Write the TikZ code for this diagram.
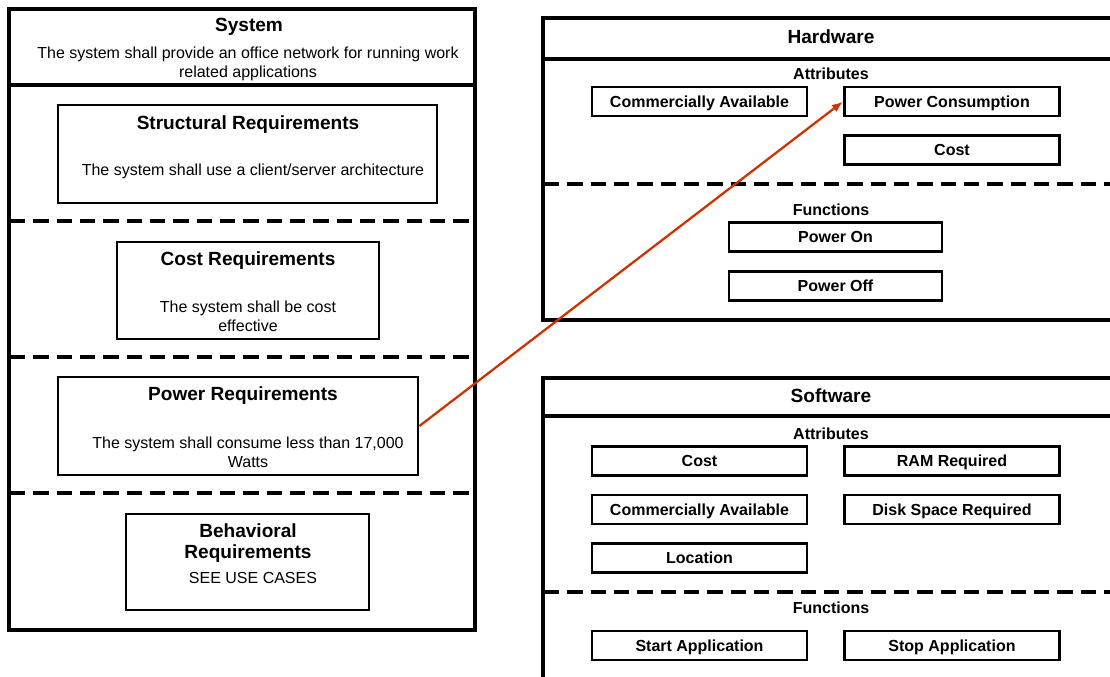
\documentclass[tikz,border=0pt]{standalone}
\usepackage{fontspec}
\setmainfont{Liberation Sans}
\usetikzlibrary{arrows.meta}
\definecolor{linkred}{RGB}{204,51,0}
\begin{document}
\begin{tikzpicture}[x=0.75pt,y=-0.75pt,
  frame/.style={draw=black,line width=2.3pt},
  dashsep/.style={draw=black,line width=2.3pt,dash pattern=on 11.5pt off 6pt},
  reqbox/.style={draw=black,line width=2.1pt,inner sep=0pt},
  attbox/.style={draw=black,line width=2.1pt,inner sep=0pt,minimum width=161.25pt,minimum height=21.75pt,text height=8.6pt,text depth=0.3pt,font=\fontsize{12}{14}\selectfont\bfseries},
  titletext/.style={font=\fontsize{14.3}{16}\selectfont\bfseries,inner sep=0pt},
  bodytext/.style={font=\fontsize{12}{14.2}\selectfont,inner sep=0pt,align=center},
  subtext/.style={font=\fontsize{12}{14}\selectfont\bfseries,inner sep=0pt,text height=8.6pt,text depth=0.3pt},
  link/.style={draw=linkred,line width=1.7pt,-{Latex[length=8.5pt,width=6.5pt]}}
]
\useasboundingbox (0,0) rectangle (1110,676);

% ---------------- System ----------------
\node (sys) [frame,inner sep=0pt,minimum width=349.5pt,minimum height=465.75pt] at (242,319.5) {};
\draw[line width=2.3pt] (9,85) -- (475,85);
\node (systitle) [titletext] at (249,27) {System};
\node (sysdesc) [bodytext] at (248,64) {The system shall provide an office network for running work\\related applications};
\draw[dashsep] (10,221) -- (474,221);
\draw[dashsep] (10,357) -- (474,357);
\draw[dashsep] (10,493) -- (474,493);

\node (struct) [reqbox,minimum width=284.25pt,minimum height=73.5pt] at (247.5,154) {};
\node (structtitle) [titletext] at (248,125) {Structural Requirements};
\node (structtext) [bodytext] at (253,171) {The system shall use a client/server architecture};

\node (cost) [reqbox,minimum width=196.5pt,minimum height=72.75pt] at (248,290.5) {};
\node (costtitle) [titletext] at (248,261) {Cost Requirements};
\node (costtext) [bodytext] at (248,316.5) {The system shall be cost\\effective};

\node (pow) [reqbox,minimum width=270pt,minimum height=73.5pt] at (238,426) {};
\node (powtitle) [titletext] at (243,396) {Power Requirements};
\node (powtext) [bodytext] at (248,452.5) {The system shall consume less than 17,000\\Watts};

\node (beh) [reqbox,minimum width=182.25pt,minimum height=72pt] at (247.5,562) {};
\node (behtitle) [titletext,align=center] at (248,543) {Behavioral\\Requirements};
\node (behtext) [bodytext] at (253,578) {SEE USE CASES};

% ---------------- Hardware ----------------
\draw[line width=2.3pt] (1112,18) -- (543,18) -- (543,320) -- (1112,320);
\draw[line width=2.3pt] (543,59) -- (1112,59);
\node (hwtitle) [titletext] at (831,37) {Hardware};
\node (hwattr) [subtext] at (831,74) {Attributes};
\node (hwca) [attbox] at (699.5,101.5) {Commercially Available};
\node (hwpc) [attbox] at (952,101.5) {Power Consumption};
\node (hwcost) [attbox] at (952,150) {Cost};
\draw[dashsep] (544,184) -- (1112,184);
\node (hwfun) [subtext] at (831,210) {Functions};
\node (hwon) [attbox,minimum width=159.75pt] at (835.5,237) {Power On};
\node (hwoff) [attbox,minimum width=159.75pt] at (835.5,286) {Power Off};

% ---------------- Software ----------------
\draw[line width=2.3pt] (1112,378) -- (543,378) -- (543,678);
\draw[line width=2.3pt] (543,416) -- (1112,416);
\node (swtitle) [titletext] at (831,396) {Software};
\node (swattr) [subtext] at (831,434) {Attributes};
\node (swcost) [attbox] at (699.5,461) {Cost};
\node (swram) [attbox] at (952,461) {RAM Required};
\node (swca) [attbox] at (699.5,509.5) {Commercially Available};
\node (swdisk) [attbox] at (952,509.5) {Disk Space Required};
\node (swloc) [attbox] at (699.5,558) {Location};
\draw[dashsep] (544,592) -- (1112,592);
\node (swfun) [subtext] at (831,608) {Functions};
\node (swstart) [attbox] at (699.5,645.5) {Start Application};
\node (swstop) [attbox] at (952,645.5) {Stop Application};

% ---------------- Link ----------------
\draw[link] (pow.east) -- (hwpc.west);
\end{tikzpicture}
\end{document}
